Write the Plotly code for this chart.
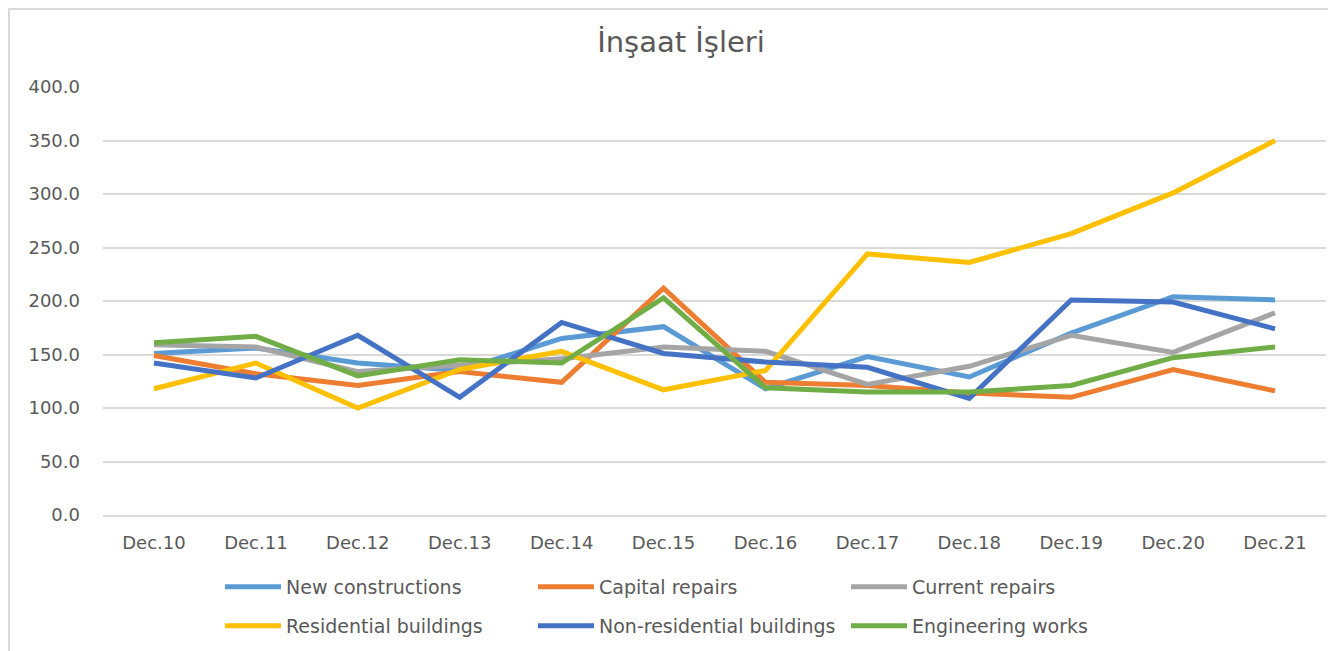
import plotly.graph_objects as go

categories = ["Dec.10", "Dec.11", "Dec.12", "Dec.13", "Dec.14", "Dec.15",
              "Dec.16", "Dec.17", "Dec.18", "Dec.19", "Dec.20", "Dec.21"]

new_constructions = [151, 156, 142, 135, 165, 176, 118, 148, 129, 170, 204, 201]
capital_repairs = [149, 132, 121, 134, 124, 212, 124, 121, 114, 110, 136, 116]
current_repairs = [159, 157, 134, 140, 146, 157, 153, 122, 139, 168, 152, 189]
residential = [118, 142, 100, 136, 153, 117, 135, 244, 236, 263, 301, 350]
non_residential = [142, 128, 168, 110, 180, 151, 143, 138, 109, 201, 199, 174]
engineering = [161, 167, 130, 145, 142, 203, 119, 115, 115, 121, 147, 157]

series_names = ["New constructions", "Capital repairs", "Current repairs",
                "Residential buildings", "Non-residential buildings", "Engineering works"]
series_values = [new_constructions, capital_repairs, current_repairs,
                 residential, non_residential, engineering]
colors = ["#5B9BD5", "#ED7D31", "#A5A5A5", "#FFC000", "#4472C4", "#70AD47"]
legend_ids = ["legend", "legend", "legend", "legend2", "legend2", "legend2"]

W, H = 1328, 643
ML, MR, MT, MB = 95, 10, 79, 136
PW = W - ML - MR
PH = H - MT - MB

fig = go.Figure()
for name, vals, col, lg in zip(series_names, series_values, colors, legend_ids):
    fig.add_trace(go.Scatter(x=categories, y=vals, mode="lines", name=name,
                             line=dict(color=col, width=5), legend=lg))

font_family = "DejaVu Sans"
txt_col = "#595959"
leg_common = dict(orientation="h", xanchor="left", yanchor="middle",
                  xref="container", yref="container",
                  entrywidth=242, font=dict(family=font_family, size=19, color=txt_col),
                  bgcolor="rgba(0,0,0,0)", itemwidth=56)

leg_x = 212 / W

fig.update_layout(
    width=W, height=H,
    paper_bgcolor="white", plot_bgcolor="white",
    margin=dict(l=ML, r=MR, t=MT, b=MB, autoexpand=False),
    title=dict(text="İnşaat İşleri", x=(681 - 8) / W, xref="container", xanchor="center",
               y=1 - 34 / H, yanchor="middle",
               font=dict(family=font_family, size=29, color=txt_col)),
    legend=dict(x=leg_x, y=1 - 579 / H, **leg_common),
    legend2=dict(x=leg_x, y=1 - 618 / H, **leg_common),
    xaxis=dict(type="category", range=[-0.5, 11.5], showgrid=False, showline=True,
               linecolor="#D9D9D9", linewidth=1.5, ticks="",
               tickfont=dict(family=font_family, size=18, color=txt_col),
               ticklabelstandoff=11),
    yaxis=dict(range=[0, 400], dtick=50, tickformat=".1f", showgrid=True,
               gridcolor="#D9D9D9", gridwidth=1.5, zeroline=False, showline=False,
               tickfont=dict(family=font_family, size=18, color=txt_col),
               ticklabelstandoff=22),
    shapes=[
        dict(type="line", xref="paper", yref="paper",
             x0=(1 - ML) / PW, x1=(1 - ML) / PW, y0=1 + MT / PH, y1=-MB / PH,
             line=dict(color="#D9D9D9", width=2)),
        dict(type="line", xref="paper", yref="paper",
             x0=(1 - ML) / PW, x1=1 + MR / PW, y0=1 + (MT - 1) / PH, y1=1 + (MT - 1) / PH,
             line=dict(color="#D9D9D9", width=2)),
    ],
    showlegend=True,
)

fig.write_html("out.html")
